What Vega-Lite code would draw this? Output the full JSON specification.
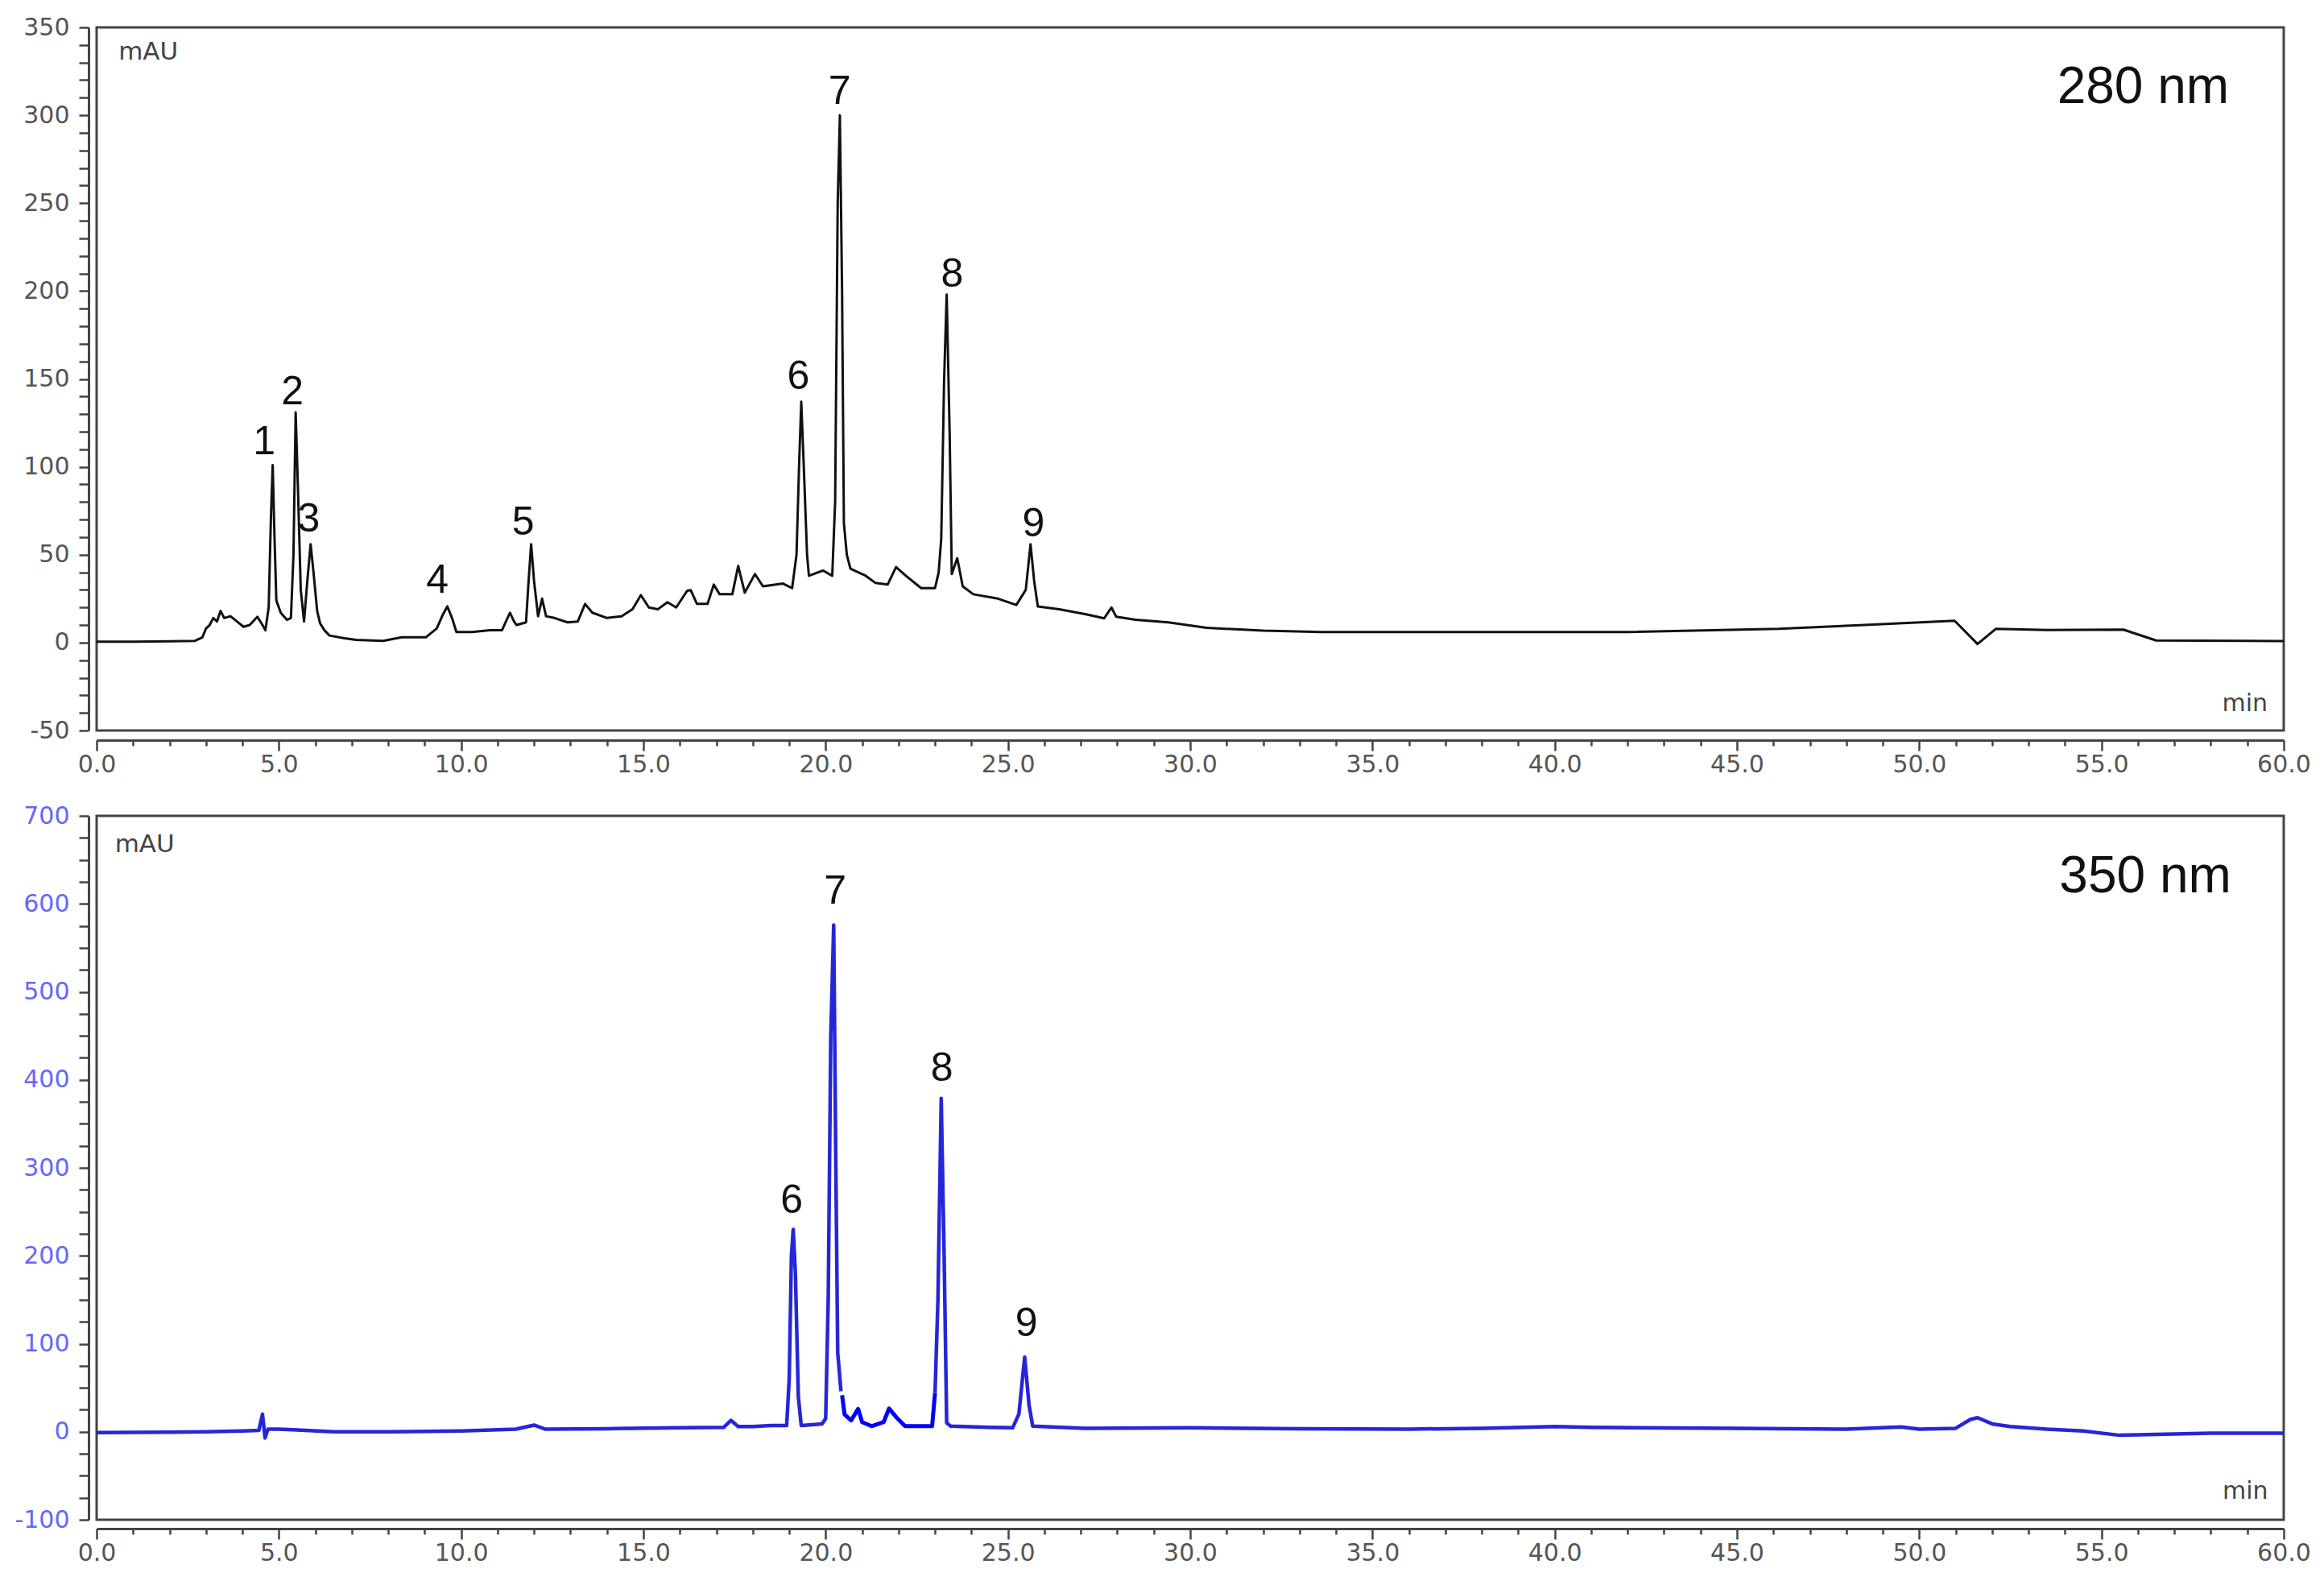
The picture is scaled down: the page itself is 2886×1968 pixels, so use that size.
{
  "$schema": "https://vega.github.io/schema/vega-lite/v6.json",
  "background": "white",
  "padding": {"left": 16, "top": 17, "right": 10, "bottom": 10},
  "spacing": 30,
  "config": {
    "view": {"stroke": "#444", "strokeWidth": 3},
    "axis": {"grid": false, "domainColor": "#444", "domainWidth": 3, "tickColor": "#444", "tickWidth": 2.5, "labelFont": "DejaVu Sans", "labelFontSize": 30, "labelColor": "#555", "title": null, "labelOverlap": false, "labelFlush": false}
  },
  "vconcat": [
    {
      "width": 2716,
      "height": 873,
      "encoding": {
        "x": {"field": "t", "type": "quantitative", "scale": {"domain": [0, 60], "nice": false, "zero": false},
          "axis": {"values": [0,1,2,3,4,5,6,7,8,9,10,11,12,13,14,15,16,17,18,19,20,21,22,23,24,25,26,27,28,29,30,31,32,33,34,35,36,37,38,39,40,41,42,43,44,45,46,47,48,49,50,51,52,53,54,55,56,57,58,59,60],
            "labelExpr": "datum.value % 5 === 0 ? format(datum.value, '.1f') : ''",
            "tickSize": {"condition": {"test": "datum.value % 5 === 0", "value": 13}, "value": 7},
            "offset": 12, "labelPadding": 2}},
        "y": {"field": "mAU", "type": "quantitative", "scale": {"domain": [-50, 350], "nice": false, "zero": false},
          "axis": {"values": [-50,-40,-30,-20,-10,0,10,20,30,40,50,60,70,80,90,100,110,120,130,140,150,160,170,180,190,200,210,220,230,240,250,260,270,280,290,300,310,320,330,340,350],
            "labelExpr": "datum.value % 50 === 0 ? '' + datum.value : ''",
            "tickSize": 12, "offset": 10, "labelPadding": 12}}
      },
      "layer": [
        {
          "data": {"values": [
            {"t": 0, "mAU": 0.5}, {"t": 1.0, "mAU": 0.5}, {"t": 2.0, "mAU": 0.8}, {"t": 2.7, "mAU": 1}, {"t": 2.9, "mAU": 3},
            {"t": 3.0, "mAU": 8}, {"t": 3.1, "mAU": 10}, {"t": 3.2, "mAU": 14}, {"t": 3.3, "mAU": 12}, {"t": 3.4, "mAU": 18},
            {"t": 3.5, "mAU": 14}, {"t": 3.67, "mAU": 15}, {"t": 3.85, "mAU": 12}, {"t": 4.03, "mAU": 9}, {"t": 4.2, "mAU": 10},
            {"t": 4.41, "mAU": 14.7}, {"t": 4.55, "mAU": 10}, {"t": 4.63, "mAU": 7}, {"t": 4.72, "mAU": 20}, {"t": 4.78, "mAU": 70},
            {"t": 4.83, "mAU": 101}, {"t": 4.88, "mAU": 60}, {"t": 4.93, "mAU": 24}, {"t": 5.05, "mAU": 17}, {"t": 5.22, "mAU": 13},
            {"t": 5.33, "mAU": 14}, {"t": 5.4, "mAU": 50}, {"t": 5.46, "mAU": 131}, {"t": 5.52, "mAU": 90}, {"t": 5.6, "mAU": 30},
            {"t": 5.69, "mAU": 12}, {"t": 5.78, "mAU": 35}, {"t": 5.87, "mAU": 56}, {"t": 5.95, "mAU": 40}, {"t": 6.05, "mAU": 18},
            {"t": 6.13, "mAU": 11}, {"t": 6.25, "mAU": 7}, {"t": 6.39, "mAU": 4}, {"t": 6.8, "mAU": 2.5}, {"t": 7.12, "mAU": 1.5},
            {"t": 7.86, "mAU": 1}, {"t": 8.37, "mAU": 3}, {"t": 9.03, "mAU": 3}, {"t": 9.33, "mAU": 8}, {"t": 9.5, "mAU": 16},
            {"t": 9.62, "mAU": 20.6}, {"t": 9.75, "mAU": 14}, {"t": 9.87, "mAU": 6}, {"t": 10.3, "mAU": 6}, {"t": 10.79, "mAU": 7},
            {"t": 11.12, "mAU": 7}, {"t": 11.25, "mAU": 13}, {"t": 11.34, "mAU": 17}, {"t": 11.45, "mAU": 12}, {"t": 11.52, "mAU": 10},
            {"t": 11.78, "mAU": 11.5}, {"t": 11.85, "mAU": 35}, {"t": 11.92, "mAU": 56}, {"t": 12.0, "mAU": 35}, {"t": 12.11, "mAU": 15},
            {"t": 12.22, "mAU": 25}, {"t": 12.33, "mAU": 15}, {"t": 12.56, "mAU": 14}, {"t": 12.92, "mAU": 11.5}, {"t": 13.2, "mAU": 12},
            {"t": 13.4, "mAU": 22}, {"t": 13.6, "mAU": 17}, {"t": 14.0, "mAU": 14}, {"t": 14.4, "mAU": 15}, {"t": 14.7, "mAU": 19},
            {"t": 14.93, "mAU": 27}, {"t": 15.15, "mAU": 20}, {"t": 15.4, "mAU": 19}, {"t": 15.66, "mAU": 23}, {"t": 15.9, "mAU": 20},
            {"t": 16.2, "mAU": 29.5}, {"t": 16.3, "mAU": 29.8}, {"t": 16.47, "mAU": 22}, {"t": 16.76, "mAU": 22}, {"t": 16.93, "mAU": 33},
            {"t": 17.09, "mAU": 27.5}, {"t": 17.44, "mAU": 27.5}, {"t": 17.6, "mAU": 43.6}, {"t": 17.78, "mAU": 28.4}, {"t": 18.06, "mAU": 39},
            {"t": 18.28, "mAU": 32}, {"t": 18.83, "mAU": 33.6}, {"t": 19.08, "mAU": 31}, {"t": 19.2, "mAU": 50}, {"t": 19.27, "mAU": 100},
            {"t": 19.33, "mAU": 137}, {"t": 19.4, "mAU": 100}, {"t": 19.49, "mAU": 50}, {"t": 19.54, "mAU": 38}, {"t": 19.93, "mAU": 41},
            {"t": 20.18, "mAU": 38}, {"t": 20.26, "mAU": 80}, {"t": 20.33, "mAU": 250}, {"t": 20.39, "mAU": 300}, {"t": 20.45, "mAU": 200},
            {"t": 20.5, "mAU": 68}, {"t": 20.58, "mAU": 50}, {"t": 20.68, "mAU": 42}, {"t": 21.1, "mAU": 38}, {"t": 21.36, "mAU": 34},
            {"t": 21.7, "mAU": 33}, {"t": 21.93, "mAU": 43}, {"t": 22.2, "mAU": 38}, {"t": 22.62, "mAU": 31}, {"t": 23.0, "mAU": 31},
            {"t": 23.1, "mAU": 40}, {"t": 23.17, "mAU": 59}, {"t": 23.25, "mAU": 150}, {"t": 23.32, "mAU": 198}, {"t": 23.4, "mAU": 120},
            {"t": 23.46, "mAU": 39}, {"t": 23.61, "mAU": 48}, {"t": 23.76, "mAU": 32}, {"t": 24.05, "mAU": 27.5}, {"t": 24.73, "mAU": 25},
            {"t": 25.23, "mAU": 21.4}, {"t": 25.49, "mAU": 30}, {"t": 25.62, "mAU": 56}, {"t": 25.72, "mAU": 35}, {"t": 25.82, "mAU": 20.6},
            {"t": 26.41, "mAU": 19}, {"t": 27.17, "mAU": 16}, {"t": 27.64, "mAU": 13.8}, {"t": 27.84, "mAU": 20}, {"t": 27.97, "mAU": 14.7},
            {"t": 28.5, "mAU": 13}, {"t": 29.4, "mAU": 11.5}, {"t": 30.45, "mAU": 8.4}, {"t": 32, "mAU": 6.8}, {"t": 33.6, "mAU": 6},
            {"t": 42, "mAU": 6}, {"t": 46.15, "mAU": 7.8}, {"t": 48.25, "mAU": 9.8}, {"t": 50.97, "mAU": 12.4}, {"t": 51.6, "mAU": -0.8},
            {"t": 52.1, "mAU": 7.8}, {"t": 53.5, "mAU": 7.2}, {"t": 55.6, "mAU": 7.4}, {"t": 56.5, "mAU": 1.2}, {"t": 60, "mAU": 0.9}
          ]},
          "mark": {"type": "line", "color": "#111", "strokeWidth": 3, "strokeJoin": "round", "clip": true}
        },
        {
          "data": {"values": [
            {"t": 4.6, "mAU": 113.9, "label": "1"}, {"t": 5.37, "mAU": 142.6, "label": "2"}, {"t": 5.82, "mAU": 70.0, "label": "3"},
            {"t": 9.35, "mAU": 35.4, "label": "4"}, {"t": 11.7, "mAU": 68.3, "label": "5"}, {"t": 19.25, "mAU": 151.1, "label": "6"},
            {"t": 20.38, "mAU": 313.2, "label": "7"}, {"t": 23.47, "mAU": 209.3, "label": "8"}, {"t": 25.7, "mAU": 67.5, "label": "9"}
          ]},
          "mark": {"type": "text", "font": "Liberation Sans", "fontSize": 50, "color": "#111", "align": "center", "baseline": "middle"},
          "encoding": {"text": {"field": "label"}}
        },
        {
          "data": {"values": [{"t": 0.6, "mAU": 336, "label": "mAU"}]},
          "mark": {"type": "text", "font": "DejaVu Sans", "fontSize": 31, "color": "#444", "align": "left", "baseline": "middle"},
          "encoding": {"text": {"field": "label"}}
        },
        {
          "data": {"values": [{"t": 59.56, "mAU": -35, "label": "min"}]},
          "mark": {"type": "text", "font": "DejaVu Sans", "fontSize": 30, "color": "#444", "align": "right", "baseline": "middle"},
          "encoding": {"text": {"field": "label"}}
        },
        {
          "data": {"values": [{"t": 58.5, "mAU": 315.6, "label": "280 nm"}]},
          "mark": {"type": "text", "font": "Liberation Sans", "fontSize": 64, "color": "#111", "align": "right", "baseline": "middle"},
          "encoding": {"text": {"field": "label"}}
        }
      ]
    },
    {
      "width": 2716,
      "height": 874,
      "encoding": {
        "x": {"field": "t", "type": "quantitative", "scale": {"domain": [0, 60], "nice": false, "zero": false},
          "axis": {"values": [0,1,2,3,4,5,6,7,8,9,10,11,12,13,14,15,16,17,18,19,20,21,22,23,24,25,26,27,28,29,30,31,32,33,34,35,36,37,38,39,40,41,42,43,44,45,46,47,48,49,50,51,52,53,54,55,56,57,58,59,60],
            "labelExpr": "datum.value % 5 === 0 ? format(datum.value, '.1f') : ''",
            "tickSize": {"condition": {"test": "datum.value % 5 === 0", "value": 13}, "value": 7},
            "offset": 11, "labelPadding": 2}},
        "y": {"field": "mAU", "type": "quantitative", "scale": {"domain": [-100, 700], "nice": false, "zero": false},
          "axis": {"values": [-100,-75,-50,-25,0,25,50,75,100,125,150,175,200,225,250,275,300,325,350,375,400,425,450,475,500,525,550,575,600,625,650,675,700],
            "labelExpr": "datum.value % 100 === 0 ? '' + datum.value : ''",
            "labelColor": "#6666ff",
            "tickSize": 12, "offset": 10, "labelPadding": 12}}
      },
      "layer": [
        {
          "data": {"values": [
            {"seg": "a", "t": 0, "mAU": -1}, {"seg": "a", "t": 2.0, "mAU": -0.5}, {"seg": "a", "t": 3.0, "mAU": 0}, {"seg": "a", "t": 4.0, "mAU": 1},
            {"seg": "a", "t": 4.45, "mAU": 1.5}, {"seg": "a", "t": 4.55, "mAU": 20}, {"seg": "a", "t": 4.62, "mAU": -7}, {"seg": "a", "t": 4.7, "mAU": 3},
            {"seg": "a", "t": 5.0, "mAU": 3}, {"seg": "a", "t": 5.5, "mAU": 2}, {"seg": "a", "t": 6.5, "mAU": 0}, {"seg": "a", "t": 8, "mAU": 0},
            {"seg": "a", "t": 10, "mAU": 1}, {"seg": "a", "t": 11.5, "mAU": 3}, {"seg": "a", "t": 12.0, "mAU": 7.6}, {"seg": "a", "t": 12.3, "mAU": 3},
            {"seg": "a", "t": 14, "mAU": 3.5}, {"seg": "a", "t": 16, "mAU": 4.5}, {"seg": "a", "t": 17.2, "mAU": 5}, {"seg": "a", "t": 17.4, "mAU": 13},
            {"seg": "a", "t": 17.6, "mAU": 6}, {"seg": "a", "t": 18.0, "mAU": 6}, {"seg": "a", "t": 18.5, "mAU": 7}, {"seg": "a", "t": 18.93, "mAU": 7},
            {"seg": "a", "t": 19.0, "mAU": 60}, {"seg": "a", "t": 19.06, "mAU": 200}, {"seg": "a", "t": 19.11, "mAU": 230}, {"seg": "a", "t": 19.17, "mAU": 180},
            {"seg": "a", "t": 19.25, "mAU": 40}, {"seg": "a", "t": 19.33, "mAU": 7}, {"seg": "a", "t": 19.9, "mAU": 9}, {"seg": "a", "t": 20.0, "mAU": 15},
            {"seg": "a", "t": 20.07, "mAU": 150}, {"seg": "a", "t": 20.14, "mAU": 450}, {"seg": "a", "t": 20.22, "mAU": 576}, {"seg": "a", "t": 20.28, "mAU": 300},
            {"seg": "a", "t": 20.33, "mAU": 90}, {"seg": "a", "t": 20.42, "mAU": 46},
            {"seg": "b", "t": 23.0, "mAU": 44}, {"seg": "b", "t": 23.08, "mAU": 150}, {"seg": "b", "t": 23.17, "mAU": 379}, {"seg": "b", "t": 23.25, "mAU": 200},
            {"seg": "b", "t": 23.32, "mAU": 10}, {"seg": "b", "t": 23.43, "mAU": 6.4}, {"seg": "b", "t": 24.5, "mAU": 5}, {"seg": "b", "t": 25.13, "mAU": 4.5},
            {"seg": "b", "t": 25.3, "mAU": 20}, {"seg": "b", "t": 25.46, "mAU": 85}, {"seg": "b", "t": 25.58, "mAU": 30}, {"seg": "b", "t": 25.68, "mAU": 6.4},
            {"seg": "b", "t": 27.12, "mAU": 4}, {"seg": "b", "t": 30, "mAU": 4.5}, {"seg": "b", "t": 33, "mAU": 3.5}, {"seg": "b", "t": 36, "mAU": 3},
            {"seg": "b", "t": 38, "mAU": 4}, {"seg": "b", "t": 40, "mAU": 6}, {"seg": "b", "t": 41, "mAU": 5}, {"seg": "b", "t": 45, "mAU": 4},
            {"seg": "b", "t": 48, "mAU": 3}, {"seg": "b", "t": 49.5, "mAU": 5.5}, {"seg": "b", "t": 50, "mAU": 3}, {"seg": "b", "t": 51, "mAU": 4},
            {"seg": "b", "t": 51.4, "mAU": 14}, {"seg": "b", "t": 51.6, "mAU": 16}, {"seg": "b", "t": 52, "mAU": 9}, {"seg": "b", "t": 52.5, "mAU": 6},
            {"seg": "b", "t": 53.5, "mAU": 3}, {"seg": "b", "t": 54.5, "mAU": 1}, {"seg": "b", "t": 55.5, "mAU": -4}, {"seg": "b", "t": 56.5, "mAU": -3},
            {"seg": "b", "t": 58, "mAU": -1.5}, {"seg": "b", "t": 60, "mAU": -1.5}
          ]},
          "mark": {"type": "line", "color": "#2626d9", "strokeWidth": 4.5, "strokeJoin": "round", "clip": true},
          "encoding": {"detail": {"field": "seg"}}
        },
        {
          "data": {"values": [
            {"t": 20.45, "mAU": 41.5}, {"t": 20.52, "mAU": 19.6}, {"t": 20.7, "mAU": 13}, {"t": 20.89, "mAU": 26},
            {"t": 21.0, "mAU": 11}, {"t": 21.26, "mAU": 6.4}, {"t": 21.59, "mAU": 11}, {"t": 21.74, "mAU": 26.5},
            {"t": 21.96, "mAU": 15.5}, {"t": 22.18, "mAU": 6.4}, {"t": 22.92, "mAU": 6.4}, {"t": 23.0, "mAU": 44}
          ]},
          "mark": {"type": "line", "color": "#0000ff", "strokeWidth": 5, "strokeJoin": "round", "clip": true}
        },
        {
          "data": {"values": [
            {"t": 19.07, "mAU": 262.2, "label": "6"}, {"t": 20.26, "mAU": 614.4, "label": "7"},
            {"t": 23.19, "mAU": 412.2, "label": "8"}, {"t": 25.51, "mAU": 122.4, "label": "9"}
          ]},
          "mark": {"type": "text", "font": "Liberation Sans", "fontSize": 50, "color": "#111", "align": "center", "baseline": "middle"},
          "encoding": {"text": {"field": "label"}}
        },
        {
          "data": {"values": [{"t": 0.5, "mAU": 667, "label": "mAU"}]},
          "mark": {"type": "text", "font": "DejaVu Sans", "fontSize": 31, "color": "#444", "align": "left", "baseline": "middle"},
          "encoding": {"text": {"field": "label"}}
        },
        {
          "data": {"values": [{"t": 59.57, "mAU": -68, "label": "min"}]},
          "mark": {"type": "text", "font": "DejaVu Sans", "fontSize": 30, "color": "#444", "align": "right", "baseline": "middle"},
          "encoding": {"text": {"field": "label"}}
        },
        {
          "data": {"values": [{"t": 58.56, "mAU": 630, "label": "350 nm"}]},
          "mark": {"type": "text", "font": "Liberation Sans", "fontSize": 64, "color": "#111", "align": "right", "baseline": "middle"},
          "encoding": {"text": {"field": "label"}}
        }
      ]
    }
  ]
}
